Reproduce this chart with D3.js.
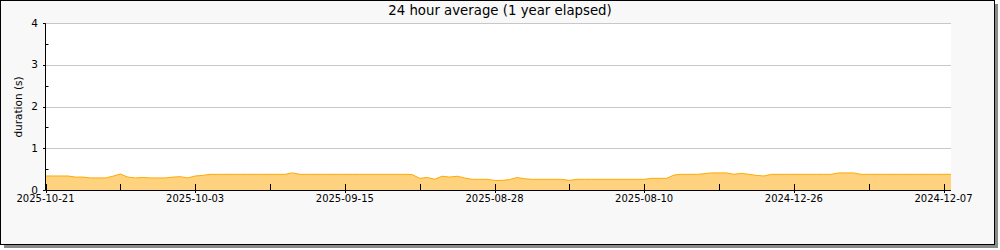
<!DOCTYPE html>
<html>
<head>
<meta charset="utf-8">
<script src="https://cdn.jsdelivr.net/npm/d3@7"></script>
<style>
  body { margin: 0; background: #fff; }
  text { font-family: "DejaVu Sans", sans-serif; fill: #000; }
</style>
</head>
<body>
<div id="chart"></div>
<script>
// samples, newest first (one every 1/10 of a tick interval)
const values = [
  0.336, 0.336, 0.336, 0.336, 0.31, 0.31, 0.29, 0.29, 0.29, 0.33,
  0.384, 0.31, 0.29, 0.30, 0.29, 0.29, 0.29, 0.31, 0.32, 0.29,
  0.336, 0.35, 0.376, 0.376, 0.376, 0.376, 0.376, 0.376, 0.376, 0.376,
  0.376, 0.376, 0.376, 0.41, 0.376, 0.376, 0.376, 0.376, 0.376, 0.376,
  0.376, 0.376, 0.376, 0.376, 0.376, 0.376, 0.376, 0.376, 0.376, 0.37,
  0.28, 0.30, 0.26, 0.33, 0.31, 0.33, 0.29, 0.256, 0.256, 0.256,
  0.23, 0.23, 0.25, 0.30, 0.27, 0.256, 0.256, 0.256, 0.256, 0.256,
  0.23, 0.256, 0.256, 0.256, 0.256, 0.256, 0.256, 0.256, 0.256, 0.256,
  0.256, 0.28, 0.28, 0.28, 0.36, 0.376, 0.376, 0.376, 0.39, 0.41,
  0.41, 0.41, 0.376, 0.40, 0.376, 0.35, 0.336, 0.376, 0.376, 0.376,
  0.376, 0.376, 0.376, 0.376, 0.376, 0.376, 0.41, 0.41, 0.41, 0.376,
  0.376, 0.376, 0.376, 0.376, 0.376, 0.376, 0.376, 0.376, 0.376, 0.376,
  0.376, 0.376
];
const xLabels = ["2025-10-21", "2025-10-03", "2025-09-15", "2025-08-28", "2025-08-10", "2024-12-26", "2024-12-07"];
const xMajor = [0, 20, 40, 60, 80, 100, 120];
const xMinor = [10, 30, 50, 70, 90, 110];
const yMajor = [0, 1, 2, 3, 4];
const yMinor = [0.5, 1.5, 2.5, 3.5];

const width = 1000;
const height = 250;

const svg = d3.select("#chart").append("svg")
  .attr("width", width)
  .attr("height", height);

// frame with shadow
svg.append("rect").attr("x", 4).attr("y", 4).attr("width", 994).attr("height", 244).attr("fill", "#8a8a8a");
svg.append("rect").attr("x", 0.5).attr("y", 0.5).attr("width", 994).attr("height", 244)
  .attr("fill", "#f8f8f8").attr("stroke", "#000");

const x = d3.scaleLinear().domain([0, values.length - 1]).range([45.5, 951]);
const y = d3.scaleLinear().domain([0, 4]).range([190, 23.3]);

// plot background
svg.append("rect")
  .attr("x", x(0)).attr("y", y(4))
  .attr("width", x(values.length - 1) - x(0))
  .attr("height", y(0) - y(4))
  .attr("fill", "#fff");

// grid
svg.append("g").selectAll("line").data(yMajor.slice(1)).join("line")
  .attr("x1", x(0)).attr("x2", x(values.length - 1))
  .attr("y1", d => Math.round(y(d)) + 0.5).attr("y2", d => Math.round(y(d)) + 0.5)
  .attr("stroke", "#c8c8c8");

// data
const area = d3.area().x((d, i) => x(i)).y0(y(0)).y1(d => y(d));
const line = d3.line().x((d, i) => x(i)).y(d => y(d));
svg.append("path").datum(values).attr("d", area).attr("fill", "#ffd280");
svg.append("path").datum(values).attr("d", line).attr("fill", "none").attr("stroke", "#ffaa00").attr("stroke-width", 1);

// y axis
const gy = svg.append("g");
gy.append("line").attr("x1", 45.5).attr("x2", 45.5).attr("y1", y(4)).attr("y2", y(0)).attr("stroke", "#000");
gy.selectAll(".maj").data(yMajor).join("line").attr("class", "maj")
  .attr("x1", 43).attr("x2", 45.5)
  .attr("y1", d => Math.round(y(d)) + 0.5).attr("y2", d => Math.round(y(d)) + 0.5)
  .attr("stroke", "#000");
gy.selectAll(".min").data(yMinor).join("line").attr("class", "min")
  .attr("x1", 45.5).attr("x2", 48.5)
  .attr("y1", d => Math.round(y(d)) + 0.5).attr("y2", d => Math.round(y(d)) + 0.5)
  .attr("stroke", "#000");
gy.selectAll("text").data(yMajor).join("text")
  .attr("x", 38).attr("y", d => y(d) + 3.5)
  .attr("text-anchor", "end").attr("font-size", 10.5)
  .text(d => d);

// x axis
const gx = svg.append("g");
gx.append("line").attr("x1", x(0)).attr("x2", x(values.length - 1)).attr("y1", 190.5).attr("y2", 190.5).attr("stroke", "#000");
gx.selectAll(".maj").data(xMajor).join("line").attr("class", "maj")
  .attr("x1", d => Math.round(x(d)) + 0.5).attr("x2", d => Math.round(x(d)) + 0.5)
  .attr("y1", 184).attr("y2", 193)
  .attr("stroke", "#000");
gx.selectAll(".min").data(xMinor).join("line").attr("class", "min")
  .attr("x1", d => Math.round(x(d)) + 0.5).attr("x2", d => Math.round(x(d)) + 0.5)
  .attr("y1", 184).attr("y2", 190)
  .attr("stroke", "#000");
gx.selectAll("text").data(xMajor).join("text")
  .attr("x", d => x(d)).attr("y", 202)
  .attr("text-anchor", "middle").attr("font-size", 10)
  .text((d, i) => xLabels[i]);

// labels
svg.append("text")
  .attr("x", 500).attr("y", 15)
  .attr("text-anchor", "middle").attr("font-size", 13.3)
  .text("24 hour average (1 year elapsed)");

svg.append("text")
  .attr("transform", "translate(22,107) rotate(-90)")
  .attr("text-anchor", "middle").attr("font-size", 10.5)
  .text("duration (s)");
</script>
</body>
</html>
